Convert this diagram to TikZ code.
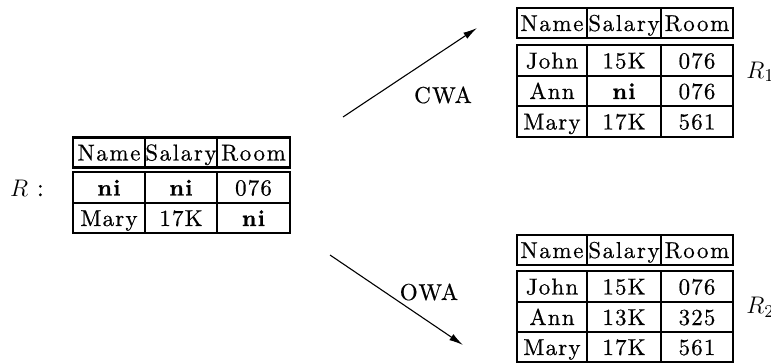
\documentclass[tikz,border=0pt]{standalone}
\usepackage{fontspec}
\setmainfont{lmroman10}[Extension=.otf, UprightFont=*-regular, BoldFont=*-bold, ItalicFont=*-italic, BoldItalicFont=*-bolditalic, UprightFeatures={FakeBold=0.5}, BoldFeatures={FakeBold=0.9}]
\usetikzlibrary{arrows.meta}
\begin{document}
\begin{tikzpicture}[x=0.5pt,y=-0.5pt,
  font=\fontsize{11.5}{13}\selectfont,
  cell/.style={draw, line width=1.4pt, inner sep=0pt, anchor=center, text height=8pt, text depth=0pt},
  hd/.style={cell, minimum height=15pt, font=\fontsize{11.5}{13}\selectfont\addfontfeature{LetterSpace=7}},
  bd/.style={cell, minimum height=15.5pt, font=\fontsize{11.5}{13}\selectfont\addfontfeature{LetterSpace=5}},
  lbl/.style={inner sep=0pt, font=\fontsize{11.5}{13}\selectfont\addfontfeature{LetterSpace=6}},
  mlbl/.style={inner sep=0pt, font=\fontsize{13}{15}\selectfont},
  conn/.style={line width=0.55pt, -{Latex[length=7pt,width=3.6pt]}}]
\useasboundingbox (0,0) rectangle (771,363);
% ---- table R ----
\node[mlbl] (Rlab) at (27,188) {$R$ :};
\node[hd, minimum width=36pt]   (L-h1) at (109,152.5) {Name};
\node[hd, minimum width=36pt]   (L-h2) at (181,152.5) {Salary};
\node[hd, minimum width=36.5pt] (L-h3) at (253.5,152.5) {Room};
\node[bd, minimum width=36pt]   (L-11) at (109,187.5) {\bfseries ni};
\node[bd, minimum width=36pt]   (L-12) at (181,187.5) {\bfseries ni};
\node[bd, minimum width=36.5pt] (L-13) at (253.5,187.5) {076};
\node[bd, minimum width=36pt, minimum height=15pt]   (L-21) at (109,218) {Mary};
\node[bd, minimum width=36pt, minimum height=15pt]   (L-22) at (181,218) {17K};
\node[bd, minimum width=36.5pt, minimum height=15pt] (L-23) at (253.5,218) {\bfseries ni};
% ---- table R1 ----
\node[hd, minimum width=35pt] (A-h1) at (552,23) {Name};
\node[hd, minimum width=37pt] (A-h2) at (624,23) {Salary};
\node[hd, minimum width=36pt] (A-h3) at (697,23) {Room};
\node[bd, minimum width=35pt] (A-11) at (552,60.5) {John};
\node[bd, minimum width=37pt] (A-12) at (624,60.5) {15K};
\node[bd, minimum width=36pt] (A-13) at (697,60.5) {076};
\node[bd, minimum width=35pt, minimum height=15pt] (A-21) at (552,91) {Ann};
\node[bd, minimum width=37pt, minimum height=15pt] (A-22) at (624,91) {\bfseries ni};
\node[bd, minimum width=36pt, minimum height=15pt] (A-23) at (697,91) {076};
\node[bd, minimum width=35pt] (A-31) at (552,121.5) {Mary};
\node[bd, minimum width=37pt] (A-32) at (624,121.5) {17K};
\node[bd, minimum width=36pt] (A-33) at (697,121.5) {561};
\node[mlbl, anchor=west] (R1lab) at (746,72) {$R_1$};
% ---- table R2 ----
\node[hd, minimum width=35pt] (B-h1) at (552,250) {Name};
\node[hd, minimum width=37pt] (B-h2) at (624,250) {Salary};
\node[hd, minimum width=36pt] (B-h3) at (697,250) {Room};
\node[bd, minimum width=35pt] (B-11) at (552,286.5) {John};
\node[bd, minimum width=37pt] (B-12) at (624,286.5) {15K};
\node[bd, minimum width=36pt] (B-13) at (697,286.5) {076};
\node[bd, minimum width=35pt, minimum height=15pt] (B-21) at (552,317) {Ann};
\node[bd, minimum width=37pt, minimum height=15pt] (B-22) at (624,317) {13K};
\node[bd, minimum width=36pt, minimum height=15pt] (B-23) at (697,317) {325};
\node[bd, minimum width=35pt, minimum height=15pt] (B-31) at (552,347) {Mary};
\node[bd, minimum width=37pt, minimum height=15pt] (B-32) at (624,347) {17K};
\node[bd, minimum width=36pt, minimum height=15pt] (B-33) at (697,347) {561};
\node[mlbl, anchor=west] (R2lab) at (746,307) {$R_2$};
% ---- arrows ----
\coordinate (cwa-s) at (343,117);
\coordinate (cwa-e) at (477,28);
\coordinate (owa-s) at (330,255);
\coordinate (owa-e) at (463,345);
\draw[conn] (cwa-s) -- (cwa-e);
\draw[conn] (owa-s) -- (owa-e);
\node[lbl] (cwa) at (443,95) {CWA};
\node[lbl] (owa) at (429,292) {OWA};
\end{tikzpicture}
\end{document}
